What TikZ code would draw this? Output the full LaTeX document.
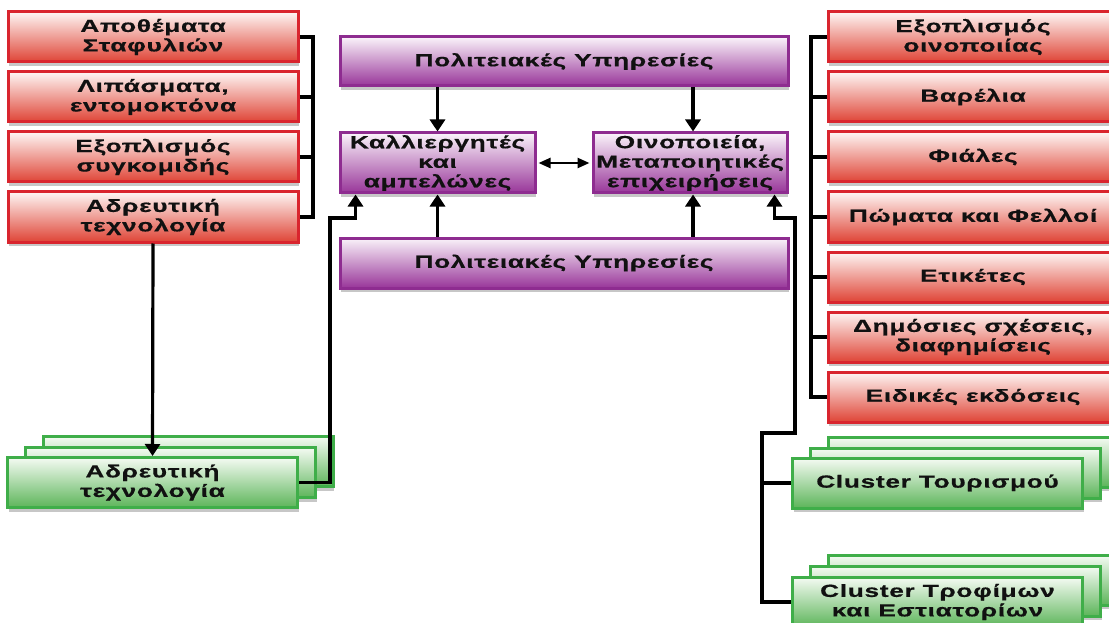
\documentclass[tikz,border=0pt]{standalone}
\usepackage{fontspec}
\setmainfont{Liberation Sans}
\newfontfamily\bfont[FakeStretch=1.5,LetterSpace=4,BoldFeatures={FakeBold=0.6}]{Liberation Sans}
\usetikzlibrary{arrows.meta,shadows,calc}
\definecolor{redB}{HTML}{D9252E}
\definecolor{redT}{HTML}{FEF6F4}
\definecolor{redM}{HTML}{F3B8AA}
\definecolor{redD}{HTML}{DF4436}
\definecolor{purB}{HTML}{8E2C90}
\definecolor{purT}{HTML}{FAF3FA}
\definecolor{purM}{HTML}{D8AFDA}
\definecolor{purD}{HTML}{983599}
\definecolor{grnB}{HTML}{3FAE49}
\definecolor{grnT}{HTML}{F5FBF3}
\definecolor{grnM}{HTML}{C5E6C2}
\definecolor{grnD}{HTML}{5DB55A}
\definecolor{txt}{HTML}{111111}
\tikzset{
  box/.style={draw, line width=3pt, inner sep=0pt, align=center, text=txt,
    font=\bfont\bfseries\fontsize{17.5}{19.5}\selectfont,
    drop shadow={shadow xshift=1pt, shadow yshift=-4pt, opacity=0.22, fill=black}},
  redbox/.style={box, draw=redB, top color=redT, middle color=redM, bottom color=redD,
    minimum width=290pt, minimum height=50pt},
  purbox/.style={box, draw=purB, top color=purT, middle color=purM, bottom color=purD},
  grnbox/.style={box, draw=grnB, top color=grnT, middle color=grnM, bottom color=grnD,
    minimum width=290pt, minimum height=50pt},
  conn/.style={line width=3.2pt, black},
  arr/.style={conn, -{Triangle[width=15pt,length=12pt]}},
  darr/.style={line width=2.4pt, black, {Triangle[width=10pt,length=12pt]}-{Triangle[width=10pt,length=12pt]}}
}
\begin{document}
\begin{tikzpicture}[x=1pt,y=-1pt]
\useasboundingbox (0,0) rectangle (1109,623);
% left red boxes
\node[redbox] (l1) at (153,37) {Αποθέματα\\Σταφυλιών};
\node[redbox] (l2) at (153,97) {Λιπάσματα,\\εντομοκτόνα};
\node[redbox] (l3) at (153,157) {Εξοπλισμός\\συγκομιδής};
\node[redbox] (l4) at (153,217) {Αδρευτική\\τεχνολογία};
% right red boxes
\node[redbox] (r1) at (973,37) {Εξοπλισμός\\οινοποιίας};
\node[redbox] (r2) at (973,97) {Βαρέλια};
\node[redbox] (r3) at (973,157) {Φιάλες};
\node[redbox] (r4) at (973,217) {Πώματα και Φελλοί};
\node[redbox] (r5) at (973,277) {Ετικέτες};
\node[redbox] (r6) at (973,337) {Δημόσιες σχέσεις,\\διαφημίσεις};
\node[redbox] (r7) at (973,397) {Ειδικές εκδόσεις};
% purple
\node[purbox, minimum width=448pt, minimum height=49pt] (pt) at (564,61.5) {Πολιτειακές Υπηρεσίες};
\node[purbox, minimum width=448pt, minimum height=50pt] (pb) at (564,263) {Πολιτειακές Υπηρεσίες};
\node[purbox, minimum width=195pt, minimum height=60pt] (kal) at (437.5,163) {Καλλιεργητές\\και\\αμπελώνες};
\node[purbox, minimum width=194pt, minimum height=60pt] (oin) at (690,163) {Οινοποιεία,\\Μεταποιητικές\\επιχειρήσεις};
% green stacks
\node[grnbox] (gLc) at (188,461.5) {};
\node[grnbox] (gLb) at (170.5,472.5) {};
\node[grnbox] (gL) at (152.5,482.5) {Αδρευτική\\τεχνολογία};
\node[grnbox] (g1c) at (973.5,462) {};
\node[grnbox] (g1b) at (955.5,473) {};
\node[grnbox] (g1) at (937.5,483) {Cluster Τουρισμού};
\node[grnbox] (g2c) at (973.5,580) {};
\node[grnbox] (g2b) at (955.5,591) {};
\node[grnbox] (g2) at (937.5,602) {Cluster Τροφίμων\\και Εστιατορίων};
% coordinates
\coordinate (lbx) at (313,0);
\coordinate (rbx) at (811,0);
\coordinate (kb) at (330,218);
\coordinate (ob) at (795,218);
\coordinate (gb) at (762,433);
% left bracket
\draw[conn] (l1.east) -- (l1.east -| lbx) |- (l4.east);
\draw[conn] (l2.east) -- (l2.east -| lbx);
\draw[conn] (l3.east) -- (l3.east -| lbx);
% right bracket
\draw[conn] (r1.west) -- (r1.west -| rbx) |- (r7.west);
\foreach \n in {r2,r3,r4,r5,r6} \draw[conn] (\n.west) -- (\n.west -| rbx);
% arrows
\draw[arr] (l4.south) -- (gL.north);
\draw[arr] (gL.east) -| (kb) -| ([xshift=17pt]kal.south west);
\draw[arr] (pt.south -| kal.north) -- (kal.north);
\draw[arr] ([xshift=3pt]pt.south -| oin.north) -- ([xshift=3pt]oin.north);
\draw[arr] (pb.north -| kal.south) -- (kal.south);
\draw[arr] ([xshift=3pt]pb.north -| oin.south) -- ([xshift=3pt]oin.south);
\draw[darr] ([xshift=2pt]kal.east) -- ([xshift=-2pt]oin.west);
\draw[arr] (g2.west) -| (gb) -| (ob) -| ([xshift=-14pt]oin.south east);
\draw[conn] (g1.west) -- (g1.west -| gb);
\end{tikzpicture}
\end{document}
